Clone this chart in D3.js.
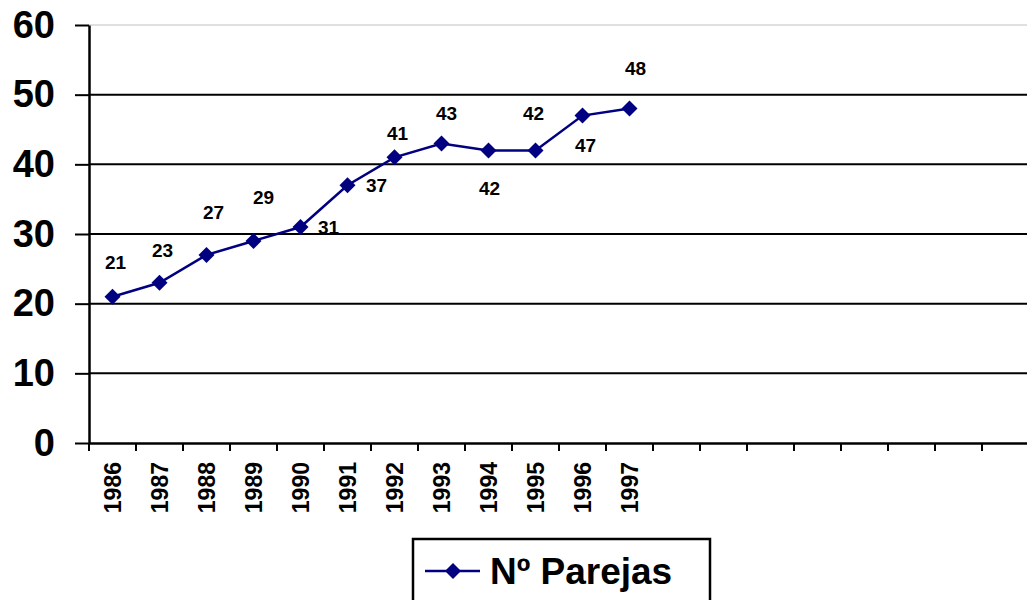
<!DOCTYPE html>
<html>
<head>
<meta charset="utf-8">
<script src="https://cdn.jsdelivr.net/npm/d3@7"></script>
<style>
  body { margin: 0; background: #fff; }
  svg { display: block; font-family: Arial, "Liberation Sans", sans-serif; font-weight: bold; }
</style>
</head>
<body>
<svg id="chart" width="1027" height="600"></svg>
<script>
// data
var years = ["1986","1987","1988","1989","1990","1991","1992","1993","1994","1995","1996","1997"]
var parejas = [21, 23, 27, 29, 31, 37, 41, 43, 42, 42, 47, 48]
var emptySlots = 8   // blank categories to the right, as in the original sheet
var yTicks = [0, 10, 20, 30, 40, 50, 60]
var seriesName = "Nº Parejas"

// value labels were dragged by hand in the original, keep their nudges
var labelDx = [3, 3, 7, 10, 28, 29, 3, 5, 1, -2, 3, 6]
var labelDy = [-35, -33, -43, -44, 0, 0, -24, -30, 38, -37, 30, -40]

var svg = d3.select("#chart")
var plotL = 89, plotR = 1029, plotT = 25, plotB = 443

var slots = years.concat(d3.range(emptySlots).map(function(i){ return "blank" + i }))
var x = d3.scaleBand().domain(slots).range([plotL, plotR])
var y = d3.scaleLinear().domain([0, 60]).range([plotB, plotT])

// plot frame top (light)
svg.append("line")
  .attr("x1", plotL).attr("x2", plotR)
  .attr("y1", y(60)).attr("y2", y(60))
  .attr("stroke", "#c0c0c0").attr("stroke-width", 1)

// gridlines
svg.append("g").selectAll("line").data(yTicks.filter(function(d){ return d > 0 && d < 60 }))
  .enter().append("line")
  .attr("x1", plotL).attr("x2", plotR)
  .attr("y1", function(d){ return y(d) }).attr("y2", function(d){ return y(d) })
  .attr("stroke", "#000").attr("stroke-width", 2)

// y axis
var yAxis = svg.append("g").attr("transform", "translate(" + plotL + ",0)")
  .call(d3.axisLeft(y).tickValues(yTicks).tickSize(14).tickSizeOuter(0).tickPadding(20))
yAxis.select(".domain").attr("stroke-width", 2.5)
yAxis.selectAll(".tick line").attr("stroke-width", 2)
yAxis.selectAll(".tick text").attr("font-size", 38).attr("font-weight", "bold")
  .attr("font-family", "Arial, 'Liberation Sans', sans-serif").attr("fill", "#000")

// x axis
var xAxis = svg.append("g").attr("transform", "translate(0," + plotB + ")")
  .call(d3.axisBottom(x).tickSize(0).tickFormat(function(d){ return d.indexOf("blank") == 0 ? "" : d }))
xAxis.select(".domain").attr("stroke-width", 2.5)
xAxis.selectAll(".tick text")
  .attr("transform", "rotate(-90)")
  .attr("text-anchor", "end")
  .attr("x", -19).attr("y", 0).attr("dy", "0.36em")
  .attr("font-size", 23).attr("font-weight", "bold")
  .attr("font-family", "Arial, 'Liberation Sans', sans-serif").attr("fill", "#000")

// category separator ticks
xAxis.append("g").selectAll("line").data(slots.concat(["end"]))
  .enter().append("line")
  .attr("x1", function(d, i){ return plotL + i * x.step() })
  .attr("x2", function(d, i){ return plotL + i * x.step() })
  .attr("y1", 0).attr("y2", 8)
  .attr("stroke", "#000").attr("stroke-width", 2)

// series line
var cx = function(d, i){ return x(years[i]) + x.bandwidth() / 2 }
var line = d3.line().x(cx).y(function(d){ return y(d) })
svg.append("path").datum(parejas)
  .attr("d", line).attr("fill", "none")
  .attr("stroke", "#000080").attr("stroke-width", 2.5)

var diamond = "M0,-8L8,0L0,8L-8,0Z"
svg.append("g").selectAll("path").data(parejas)
  .enter().append("path")
  .attr("d", diamond)
  .attr("transform", function(d, i){ return "translate(" + cx(d, i) + "," + y(d) + ")" })
  .attr("fill", "#000080")

// value labels
svg.append("g").selectAll("text").data(parejas)
  .enter().append("text")
  .attr("x", function(d, i){ return cx(d, i) + labelDx[i] })
  .attr("y", function(d, i){ return y(d) + labelDy[i] })
  .attr("dy", "0.36em")
  .attr("text-anchor", "middle")
  .attr("font-size", 19)
  .text(function(d){ return d })

// legend
var lg = svg.append("g")
lg.append("rect").attr("x", 413).attr("y", 539).attr("width", 297).attr("height", 70)
  .attr("fill", "#fff").attr("stroke", "#000").attr("stroke-width", 2.5)
lg.append("line").attr("x1", 425).attr("x2", 480).attr("y1", 571).attr("y2", 571)
  .attr("stroke", "#000080").attr("stroke-width", 2.5)
lg.append("path").attr("d", diamond).attr("transform", "translate(453,571)").attr("fill", "#000080")
lg.append("text").attr("x", 490).attr("y", 571).attr("dy", "0.36em")
  .attr("font-size", 37).text(seriesName)
</script>
</body>
</html>
